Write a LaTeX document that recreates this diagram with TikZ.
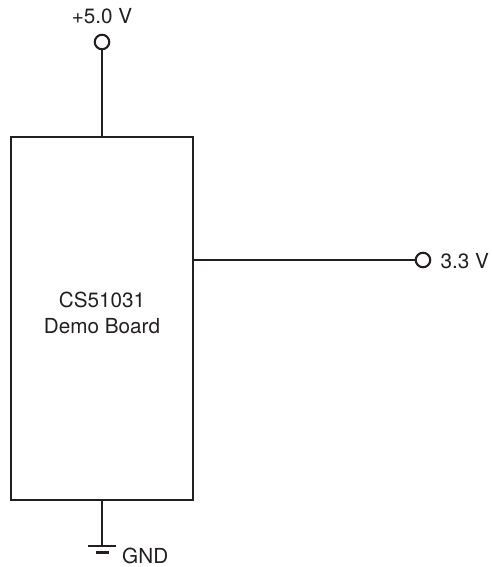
\documentclass[tikz,border=0pt]{standalone}
\usepackage{fontspec}
\setmainfont{TeX Gyre Heros}
\definecolor{ink}{HTML}{231F20}
\begin{document}
\begin{tikzpicture}[x=1pt,y=-1pt,
  wire/.style={draw=ink,line width=2.2pt},
  boardbox/.style={draw=ink,line width=2.5pt,minimum width=182pt,minimum height=363pt,inner sep=0pt},
  terminal/.style={circle,draw=ink,line width=2.1pt,minimum size=14.5pt,inner sep=0pt},
  lbl/.style={text=ink,font=\fontsize{20.7}{25}\selectfont,inner sep=0pt}]
\useasboundingbox (0,0) rectangle (492,567);
\node[boardbox] (board) at (102,318.5) {};
\node[lbl,anchor=base] (t1) at (102,307.3) {CS51031};
\node[lbl,anchor=base] (t2) at (102,333) {Demo Board};
\node[terminal] (vin) at (102,42) {};
\node[lbl,anchor=base] (lvin) at (102,24) {+5.0 V};
\draw[wire] (vin) -- (board.north);
\node[terminal] (vout) at (423,260) {};
\node[lbl,anchor=base west] (lvout) at (440.5,268) {3.3 V};
\draw[wire] (board.east |- vout) -- (vout);
\coordinate (gnd) at (102,546);
\coordinate (gndl) at (88,546);
\coordinate (gndr) at (116,546);
\coordinate (g2l) at (95.5,552.5);
\coordinate (g2r) at (108.5,552.5);
\draw[wire] (board.south) -- (gnd);
\draw[wire] (gndl) -- (gndr);
\draw[wire] (g2l) -- (g2r);
\node[lbl,anchor=base west] (lgnd) at (122,563) {GND};
\end{tikzpicture}
\end{document}
